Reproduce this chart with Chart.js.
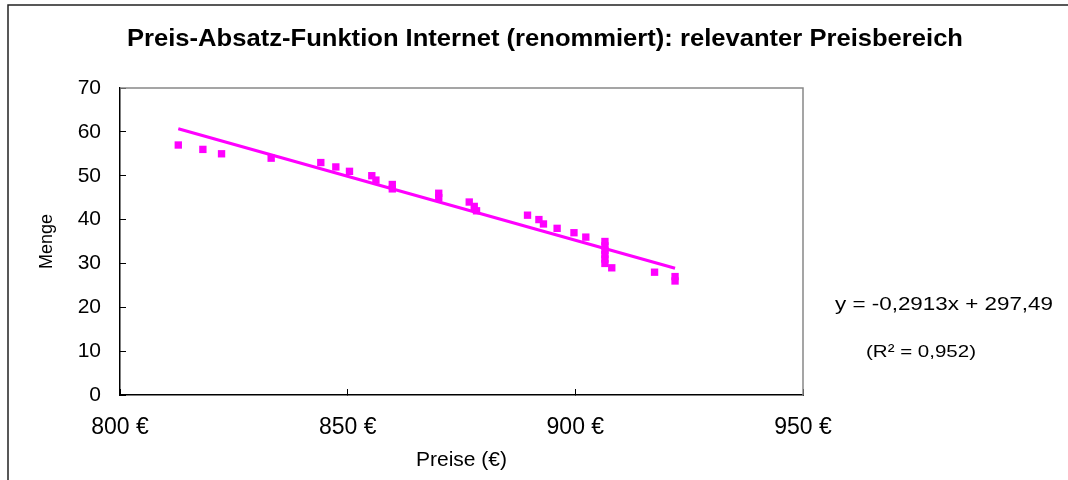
<!DOCTYPE html>
<html>
<head>
<meta charset="utf-8">
<script src="https://cdn.jsdelivr.net/npm/chart.js@4/dist/chart.umd.min.js"></script>
<style>
  html, body { margin: 0; padding: 0; background: #fff; }
  #wrap { width: 1068px; height: 480px; }
</style>
</head>
<body>
<div id="wrap"><canvas id="chart"></canvas></div>
<script>
// data
const preise = [812.8, 818.2, 822.3, 833.2, 844.1, 847.4, 850.4, 855.3, 856.2, 859.8, 859.8,
                870.0, 870.0, 876.7, 877.8, 878.3, 889.5, 892.0, 893.0, 896.0, 899.7, 902.3,
                906.5, 906.5, 906.5, 906.5, 906.5, 906.5, 908.0, 917.4, 921.9, 921.9];
const menge = [57, 56, 55, 54, 53, 52, 51, 50, 49, 48, 47, 46, 45, 44, 43, 42, 41, 40, 39, 38,
               37, 36, 35, 34, 33, 32, 31, 30, 29, 28, 27, 26];
const trendX = [812.8, 921.9];
const trendY = [60.7, 28.9];
const xTicks = [800, 850, 900, 950];
const yTicks = [0, 10, 20, 30, 40, 50, 60, 70];
const titel = 'Preis-Absatz-Funktion Internet (renommiert): relevanter Preisbereich';
const gleichung = 'y = -0,2913x + 297,49';
const bestimmtheit = '(R² = 0,952)';

const MAGENTA = '#ff00ff';
const FONT = "'Liberation Sans', Arial, sans-serif";

// the original text is a little stretched sideways, so draw it at a set width
function wideText(ctx, text, x, y, font, width, align) {
    ctx.font = font;
    const w = ctx.measureText(text).width;
    const sx = width / w;
    ctx.save();
    ctx.translate(x, y);
    ctx.scale(sx, 1);
    ctx.textAlign = align;
    ctx.fillText(text, 0, 0);
    ctx.restore();
}

// frame, plot border, title and equation text
const extras = {
    id: 'extras',
    beforeDraw(chart) {
        const ctx = chart.ctx;
        ctx.save();
        ctx.fillStyle = '#fff';
        ctx.fillRect(0, 0, chart.width, chart.height);
        ctx.strokeStyle = '#222';
        ctx.lineWidth = 1.5;
        ctx.beginPath();
        ctx.moveTo(8, chart.height);
        ctx.lineTo(8, 5);
        ctx.lineTo(chart.width, 5);
        ctx.stroke();
        ctx.restore();
    },
    afterDraw(chart) {
        const { ctx, chartArea: a } = chart;
        ctx.save();
        ctx.strokeStyle = '#888';
        ctx.lineWidth = 1.5;
        ctx.beginPath();
        ctx.moveTo(a.left, a.top);
        ctx.lineTo(a.right, a.top);
        ctx.lineTo(a.right, a.bottom);
        ctx.stroke();

        ctx.fillStyle = '#000';
        ctx.textBaseline = 'middle';
        wideText(ctx, titel, 545, 39, 'bold 24px ' + FONT, 836, 'center');
        wideText(ctx, gleichung, 835, 305, '19px ' + FONT, 218, 'left');
        wideText(ctx, bestimmtheit, 866, 352, '17px ' + FONT, 110, 'left');
        ctx.restore();
    }
};

new Chart(document.getElementById('chart'), {
    type: 'scatter',
    data: {
        datasets: [{
            label: 'Menge',
            data: preise.map((p, i) => ({ x: p, y: menge[i] })),
            backgroundColor: MAGENTA,
            borderColor: MAGENTA,
            pointStyle: 'rect',
            pointRadius: 5.2,
            borderWidth: 0,
            order: 1
        }, {
            label: 'Trend',
            type: 'line',
            data: trendX.map((p, i) => ({ x: p, y: trendY[i] })),
            borderColor: MAGENTA,
            borderWidth: 3,
            pointRadius: 0,
            fill: false,
            order: 2
        }]
    },
    options: {
        responsive: true,
        maintainAspectRatio: false,
        animation: false,
        layout: { padding: { left: 0, top: 88, right: 265, bottom: 0 } },
        plugins: {
            legend: { display: false },
            tooltip: { enabled: false }
        },
        scales: {
            x: {
                type: 'linear',
                min: xTicks[0],
                max: xTicks[xTicks.length - 1],
                afterFit(s) { s.height = 85; },
                border: { display: true, color: '#000', width: 1.5 },
                grid: { drawOnChartArea: false, drawTicks: true, tickLength: -6, color: '#000' },
                ticks: {
                    stepSize: 10,
                    autoSkip: false,
                    maxRotation: 0,
                    padding: 25,
                    color: '#000',
                    font: { family: FONT, size: 23 },
                    callback: v => xTicks.includes(v) ? v + ' €' : null
                },
                title: {
                    display: true,
                    text: 'Preise (€)',
                    color: '#000',
                    font: { family: FONT, size: 21 },
                    padding: { top: 0, bottom: 7 }
                }
            },
            y: {
                type: 'linear',
                min: yTicks[0],
                max: yTicks[yTicks.length - 1],
                afterFit(s) { s.width = 120; },
                border: { display: true, color: '#000', width: 1.5 },
                grid: { drawOnChartArea: false, drawTicks: true, tickLength: -6, color: '#000' },
                ticks: {
                    stepSize: 2,
                    autoSkip: false,
                    padding: 25,
                    color: '#000',
                    font: { family: FONT, size: 21 },
                    callback: v => yTicks.includes(v) ? v : null
                },
                title: {
                    display: true,
                    text: 'Menge',
                    color: '#000',
                    font: { family: FONT, size: 18 },
                    padding: { top: 36, bottom: 0 }
                }
            }
        }
    },
    plugins: [extras]
});
</script>
</body>
</html>
